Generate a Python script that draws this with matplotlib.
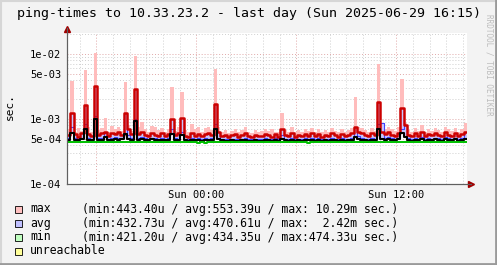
import numpy as np
import pandas as pd
import matplotlib
matplotlib.use("Agg")
import matplotlib.pyplot as plt
import matplotlib.dates as mdates
from matplotlib.lines import Line2D

plt.rcParams['font.family'] = ['DejaVu Sans Mono']

# 120 bins of 12 minutes, values in microseconds
start = pd.Timestamp('2025-06-28 16:15')
bins = 120

max_u = [700, 3880, 620, 720, 650, 5670, 760, 620, 10290, 680,
         720, 1040, 640, 780, 700, 760, 660, 3700, 820, 650,
         9300, 760, 900, 700, 640, 780, 740, 680, 720, 640,
         700, 3070, 660, 740, 2630, 680, 620, 850, 700, 740,
         640, 720, 760, 680, 5870, 760, 620, 680, 600, 660,
         700, 620, 680, 740, 640, 600, 680, 620, 660, 700,
         650, 700, 640, 620, 1220, 680, 630, 760, 620, 680,
         640, 700, 660, 720, 640, 700, 620, 680, 640, 720,
         660, 620, 700, 640, 680, 720, 2200, 760, 720, 680,
         640, 720, 660, 7000, 800, 700, 740, 700, 660, 740,
         4080, 860, 680, 640, 720, 660, 800, 640, 700, 660,
         720, 680, 640, 740, 690, 660, 720, 640, 700, 860]

red_u = [560, 1250, 580, 530, 600, 1640, 590, 540, 3220, 560,
         600, 640, 550, 610, 580, 620, 560, 1220, 700, 580,
         2860, 590, 620, 560, 540, 610, 570, 540, 600, 550,
         580, 1000, 560, 600, 1030, 550, 530, 600, 550, 580,
         540, 590, 600, 560, 1700, 640, 550, 570, 520, 560,
         580, 530, 560, 600, 540, 520, 570, 540, 550, 590,
         560, 530, 580, 520, 690, 560, 540, 610, 530, 570,
         540, 590, 550, 610, 540, 580, 530, 570, 540, 600,
         560, 530, 590, 540, 560, 600, 760, 620, 600, 560,
         540, 600, 560, 1830, 640, 580, 620, 570, 550, 610,
         1460, 820, 570, 540, 600, 550, 630, 540, 590, 560,
         600, 570, 540, 620, 570, 550, 600, 540, 580, 620]

avg_u = [505, 760, 510, 500, 515, 850, 510, 500, 1100, 505,
         510, 600, 500, 510, 520, 510, 515, 1220, 560, 505,
         1000, 510, 520, 505, 500, 515, 510, 500, 510, 500,
         510, 700, 505, 500, 620, 500, 495, 510, 500, 505,
         495, 510, 500, 510, 850, 620, 500, 495, 490, 500,
         495, 490, 500, 505, 495, 490, 500, 495, 490, 505,
         500, 495, 505, 490, 560, 500, 495, 510, 490, 500,
         495, 505, 500, 510, 495, 505, 490, 500, 495, 510,
         500, 490, 505, 495, 500, 510, 760, 540, 510, 500,
         495, 510, 500, 850, 860, 510, 520, 505, 500, 515,
         700, 820, 505, 495, 510, 500, 520, 495, 510, 500,
         515, 505, 495, 520, 505, 500, 515, 495, 510, 620]

black_u = [475, 600, 480, 470, 485, 700, 480, 470, 990, 475,
           480, 520, 470, 480, 490, 480, 485, 590, 500, 475,
           930, 480, 490, 475, 470, 485, 480, 470, 480, 470,
           480, 580, 475, 470, 560, 470, 465, 480, 470, 475,
           465, 480, 470, 480, 710, 500, 470, 465, 460, 470,
           465, 460, 470, 475, 465, 460, 470, 465, 460, 475,
           470, 465, 475, 460, 500, 470, 465, 480, 460, 470,
           465, 475, 470, 480, 465, 475, 460, 470, 465, 480,
           470, 460, 475, 465, 470, 480, 520, 490, 480, 470,
           465, 480, 470, 710, 500, 480, 490, 475, 470, 485,
           600, 520, 475, 465, 480, 470, 490, 465, 480, 470,
           485, 475, 465, 490, 475, 470, 485, 465, 480, 500]

min_u = [442, 442, 442, 442, 442, 442, 442, 442, 442, 442,
         442, 442, 442, 442, 442, 442, 442, 442, 435, 435,
         435, 435, 435, 435, 435, 438, 435, 435, 435, 435,
         438, 435, 435, 435, 435, 435, 435, 435, 435, 432,
         435, 432, 435, 440, 440, 440, 440, 440, 440, 440,
         440, 440, 440, 440, 440, 440, 440, 440, 440, 440,
         440, 440, 440, 435, 435, 435, 435, 435, 435, 435,
         435, 435, 432, 435, 435, 435, 435, 435, 435, 435,
         435, 435, 435, 440, 440, 440, 440, 440, 440, 440,
         440, 440, 440, 440, 440, 435, 435, 435, 435, 435,
         435, 435, 435, 438, 438, 438, 438, 438, 435, 435,
         435, 435, 435, 435, 435, 435, 435, 435, 435, 435]

legend_names = ['max', 'avg', 'min', 'unreachable']
legend_stats = ['(min:443.40u / avg:553.39u / max: 10.29m sec.)',
                '(min:432.73u / avg:470.61u / max:  2.42m sec.)',
                '(min:421.20u / avg:434.35u / max:474.33u sec.)',
                '']
legend_colors = ['#ffc0c0', '#c0c0ff', '#c0ffc0', '#ffff99']

ytick_vals = [1e-4, 5e-4, 1e-3, 5e-3, 1e-2]
ytick_labels = ['1e-04', '5e-04', '1e-03', '5e-03', '1e-02']


def stepped(vals):
    v = np.asarray(vals, dtype=float) * 1e-6
    return np.append(v, v[-1])


edges = pd.date_range(start, periods=bins + 1, freq='12min')
x = mdates.date2num(edges)

W, H = 497, 265
fig = plt.figure(figsize=(W / 100, H / 100), dpi=100, facecolor='#f3f3f3')
L, R, B, T = 67, 467, 184, 33
ax = fig.add_axes([L / W, 1 - B / H, (R - L) / W, (B - T) / H])
ax.set_facecolor('white')
ax.set_yscale('log')
ax.set_ylim(1e-4, 10 ** (-4 + (B - T) / 65))
ax.set_xlim(x[0], x[-1])

# grid
hour0 = pd.Timestamp('2025-06-28 17:00')
for h in pd.date_range(hour0, edges[-1], freq='1h'):
    major = h.hour % 6 == 0
    ax.axvline(mdates.date2num(h), color='#e0a8a8' if major else '#cfcfcf',
               lw=0.7, ls=(0, (1, 2)), zorder=0)
for k in (-4, -3, -2):
    for m in range(1, 10):
        v = m * 10.0 ** k
        if v >= ax.get_ylim()[1] or v <= 1e-4:
            continue
        major = m in (1, 5)
        ax.axhline(v, color='#e0a8a8' if major else '#cfcfcf',
                   lw=0.7, ls=(0, (1, 2)), zorder=0)

pk = stepped(max_u)
rd = stepped(red_u)
av = stepped(avg_u)
bk = stepped(black_u)
mn = stepped(min_u)

ax.fill_between(x, bk, pk, step='post', color='#ffbcbc', lw=0, zorder=1)
ax.fill_between(x, bk, np.maximum(rd, av), step='post', color='#c8c8ff', lw=0, zorder=2)
ax.step(x, av, where='post', color='#4040ff', lw=0.8, zorder=3)
ax.step(x, rd, where='post', color='#cc0000', lw=1.8, zorder=4)
ax.step(x, bk, where='post', color='#000000', lw=1.5, zorder=5)
ax.step(x, mn, where='post', color='#00c000', lw=1.4, zorder=6)

# axes styling
for s in ('top', 'right'):
    ax.spines[s].set_visible(False)
for s in ('left', 'bottom'):
    ax.spines[s].set_color('#606060')
    ax.spines[s].set_linewidth(0.8)
ax.set_yticks(ytick_vals)
ax.set_yticklabels(ytick_labels)
ax.yaxis.set_minor_locator(matplotlib.ticker.NullLocator())
ax.set_xticks(mdates.date2num([pd.Timestamp('2025-06-29 00:00'), pd.Timestamp('2025-06-29 12:00')]))
ax.set_xticklabels(['Sun 00:00', 'Sun 12:00'])
ax.tick_params(axis='both', length=0, labelsize=7.5, colors='black')
ax.tick_params(axis='y', pad=4)
ax.tick_params(axis='x', pad=4)

# axis arrows
fig.add_artist(Line2D([L / W, L / W], [1 - B / H, 1 - 28 / H], color='#606060', lw=0.8))
fig.add_artist(Line2D([L / W, 471 / W], [1 - B / H, 1 - B / H], color='#606060', lw=0.8))
ax.plot([L / W], [1 - 29 / H], marker='^', ms=4.5, color='#a00000', transform=fig.transFigure, clip_on=False)
ax.plot([471 / W], [1 - B / H], marker='>', ms=4.5, color='#a00000', transform=fig.transFigure, clip_on=False)

# texts
fig.text(17 / W, 1 - 13 / H, 'ping-times to 10.33.23.2 - last day (Sun 2025-06-29 16:15)',
         fontsize=9.5, ha='left', va='center')
fig.text(10 / W, 1 - 106 / H, 'sec.', fontsize=8, rotation=90, ha='center', va='center')
fig.text(489 / W, 1 - 14 / H, 'RRDTOOL / TOBI OETIKER', fontsize=5.5, color='#bdbdbd',
         rotation=270, ha='center', va='top')

for i, (nm, st, col) in enumerate(zip(legend_names, legend_stats, legend_colors)):
    yc = 1 - (209 + 14 * i) / H
    fig.patches.append(plt.Rectangle((15 / W, yc - 3.5 / H), 7 / W, 7 / H, facecolor=col,
                                     edgecolor='black', lw=0.6, transform=fig.transFigure))
    fig.text(30 / W, yc, nm, fontsize=8.3, ha='left', va='center')
    if st:
        fig.text(82 / W, yc, st, fontsize=8.3, ha='left', va='center')

# frame
fig.add_artist(Line2D([0, 1], [1 - 0.5 / H, 1 - 0.5 / H], color='#d6d6d6', lw=1.5))
fig.add_artist(Line2D([0.5 / W, 0.5 / W], [0, 1], color='#d6d6d6', lw=1.5))
fig.add_artist(Line2D([0, 1], [1.5 / H, 1.5 / H], color='#9a9a9a', lw=2))
fig.add_artist(Line2D([1 - 1.5 / W, 1 - 1.5 / W], [0, 1], color='#9a9a9a', lw=2))

fig.savefig('out.png', dpi=100, facecolor=fig.get_facecolor())
